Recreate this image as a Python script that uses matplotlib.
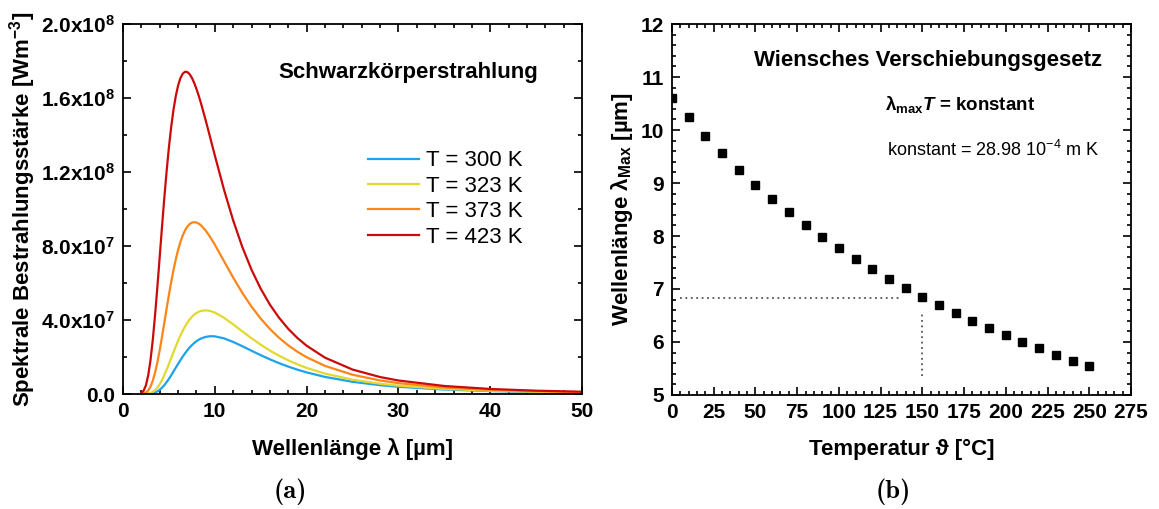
import numpy as np
import matplotlib
matplotlib.use("Agg")
import matplotlib.pyplot as plt
from matplotlib.ticker import MultipleLocator, FuncFormatter

# spectral exitance of a black body, in units of 1e7 W/m^3
wavelength = [2, 2.25, 2.5, 2.75, 3, 3.25, 3.5, 3.75, 4, 4.25, 4.5, 4.75, 5, 5.25,
              5.5, 5.75, 6, 6.25, 6.5, 6.75, 7, 7.25, 7.5, 7.75, 8, 8.25, 8.5, 9,
              9.5, 10, 11, 12, 13, 14, 15, 16, 17, 18, 19, 20, 22, 25, 28, 30, 35,
              40, 45, 50]
M_300 = [0.0, 0.0004, 0.002, 0.006, 0.018, 0.040, 0.080, 0.141, 0.227, 0.339, 0.477,
         0.638, 0.818, 1.012, 1.214, 1.421, 1.626, 1.825, 2.015, 2.194, 2.358, 2.506,
         2.638, 2.754, 2.852, 2.934, 3.000, 3.088, 3.125, 3.117, 3.008, 2.815, 2.583,
         2.339, 2.100, 1.875, 1.668, 1.482, 1.316, 1.169, 0.925, 0.660, 0.478, 0.390,
         0.243, 0.158, 0.107, 0.074]
M_323 = [0.0, 0.002, 0.007, 0.022, 0.055, 0.115, 0.212, 0.350, 0.533, 0.757, 1.019,
         1.309, 1.619, 1.938, 2.260, 2.573, 2.873, 3.153, 3.410, 3.640, 3.843, 4.018,
         4.164, 4.283, 4.376, 4.445, 4.491, 4.524, 4.489, 4.402, 4.122, 3.765, 3.385,
         3.013, 2.665, 2.350, 2.068, 1.820, 1.603, 1.413, 1.104, 0.776, 0.556, 0.451,
         0.277, 0.179, 0.120, 0.083]
M_373 = [0.005, 0.023, 0.076, 0.193, 0.401, 0.723, 1.165, 1.721, 2.370, 3.086, 3.840,
         4.602, 5.345, 6.048, 6.695, 7.274, 7.779, 8.208, 8.557, 8.833, 9.039, 9.179,
         9.261, 9.289, 9.270, 9.211, 9.115, 8.841, 8.484, 8.074, 7.185, 6.295, 5.466,
         4.724, 4.076, 3.517, 3.039, 2.631, 2.285, 1.989, 1.521, 1.042, 0.733, 0.588,
         0.354, 0.225, 0.150, 0.103]
M_423 = [0.048, 0.177, 0.473, 1.011, 1.834, 2.940, 4.288, 5.804, 7.410, 9.026, 10.582,
         12.023, 13.315, 14.428, 15.358, 16.101, 16.666, 17.064, 17.306, 17.416, 17.405,
         17.293, 17.094, 16.824, 16.494, 16.120, 15.708, 14.810, 13.861, 12.900, 11.050,
         9.386, 7.943, 6.718, 5.692, 4.834, 4.121, 3.524, 3.028, 2.611, 1.966, 1.322,
         0.917, 0.731, 0.434, 0.273, 0.180, 0.123]
curve_labels = ["T = 300 K", "T = 323 K", "T = 373 K", "T = 423 K"]
curve_colors = ["#1ca3ec", "#e2d92e", "#ff8519", "#cc0a0a"]

# peak wavelength vs. temperature
temp_c = [0, 10, 20, 30, 40, 50, 60, 70, 80, 90, 100, 110, 120, 130, 140, 150,
          160, 170, 180, 190, 200, 210, 220, 230, 240, 250]
lambda_max = [10.61, 10.24, 9.89, 9.56, 9.25, 8.97, 8.70, 8.45, 8.21, 7.98, 7.77,
              7.56, 7.37, 7.19, 7.01, 6.85, 6.69, 6.54, 6.40, 6.26, 6.13, 6.00,
              5.88, 5.76, 5.65, 5.54]
mark_temp = 150
mark_lambda = 6.83

plt.rcParams['font.family'] = ['Liberation Sans', 'DejaVu Sans']
plt.rcParams['font.weight'] = 'bold'
plt.rcParams['axes.labelweight'] = 'bold'
plt.rcParams['mathtext.fontset'] = 'custom'
plt.rcParams['mathtext.rm'] = 'Liberation Sans:bold'
plt.rcParams['mathtext.bf'] = 'Liberation Sans:bold'
plt.rcParams['mathtext.it'] = 'Liberation Sans:italic:bold'
plt.rcParams['mathtext.sf'] = 'Liberation Sans:weight=normal'


def sci_fmt(v, pos):
    if v == 0:
        return "0.0"
    e = int(np.floor(np.log10(abs(v)) + 1e-9))
    return "%.1fx10$^{%d}$" % (v / 10**e, e)


def style_axes(ax):
    for s in ax.spines.values():
        s.set_linewidth(1.3)
    ax.tick_params(which='both', direction='in', top=True, right=True, width=1.2)
    ax.tick_params(which='major', length=6, labelsize=15, pad=6)
    ax.tick_params(which='minor', length=3)


fig = plt.figure(figsize=(11.59, 5.09), dpi=100)

# (a) black body spectra
ax1 = fig.add_axes([0.1061, 0.2259, 0.3961, 0.7270])
x = np.array(wavelength)
for vals, lab, col in zip([M_300, M_323, M_373, M_423], curve_labels, curve_colors):
    ax1.plot(x, np.array(vals) * 1e7, color=col, lw=1.6, label=lab)
ax1.set_xlim(0, 50)
ax1.set_ylim(0, 2e8)
ax1.xaxis.set_major_locator(MultipleLocator(10))
ax1.xaxis.set_minor_locator(MultipleLocator(2))
ax1.yaxis.set_major_locator(MultipleLocator(4e7))
ax1.yaxis.set_minor_locator(MultipleLocator(2e7))
ax1.yaxis.set_major_formatter(FuncFormatter(sci_fmt))
style_axes(ax1)
ax1.set_xlabel("Wellenlänge λ [µm]", fontsize=16, labelpad=12)
ax1.set_ylabel("Spektrale Bestrahlungsstärke [Wm$^{-3}$]", fontsize=16, labelpad=2)
ax1.text(0.621, 0.870, "Schwarzkörperstrahlung", transform=ax1.transAxes,
         ha='center', va='center', fontsize=16)
ax1.legend(loc='center left', bbox_to_anchor=(0.534, 0.527), frameon=False,
           prop={'weight': 'normal', 'size': 16}, handlelength=2.3,
           handletextpad=0.3, labelspacing=0.2, borderpad=0, borderaxespad=0)

# (b) Wien's displacement law
ax2 = fig.add_axes([0.5798, 0.2240, 0.3960, 0.7288])
ax2.plot([5, 137], [mark_lambda, mark_lambda], color='#555555', lw=1.3,
         linestyle=(0, (1, 2)))
ax2.plot([mark_temp, mark_temp], [5.36, 6.58], color='#555555', lw=1.3,
         linestyle=(0, (1, 2)))
ax2.plot(temp_c, lambda_max, 's', color='black', markersize=6.3, zorder=3)
ax2.set_xlim(0, 275)
ax2.set_ylim(5, 12)
ax2.xaxis.set_major_locator(MultipleLocator(25))
ax2.xaxis.set_minor_locator(MultipleLocator(5))
ax2.yaxis.set_major_locator(MultipleLocator(1))
ax2.yaxis.set_minor_locator(MultipleLocator(0.2))
style_axes(ax2)
ax2.set_xlabel("Temperatur ϑ [°C]", fontsize=16, labelpad=12)
ax2.set_ylabel("Wellenlänge λ$_{\\mathrm{Max}}$ [µm]", fontsize=16, labelpad=4)
ax2.text(0.558, 0.903, "Wiensches Verschiebungsgesetz", transform=ax2.transAxes,
         ha='center', va='center', fontsize=16)
ax2.text(0.627, 0.782, "λ$_{\\mathrm{max}}$$\\mathit{T}$ = konstant",
         transform=ax2.transAxes, ha='center', va='center', fontsize=13.5)
ax2.text(0.699, 0.660, "konstant = 28.98 10$^{\\mathsf{-4}}$ m K",
         transform=ax2.transAxes, ha='center', va='center', fontsize=13,
         fontweight='normal')

# sub-figure captions
fig.text(290 / 1159, 1 - 492 / 509, "(a)", ha='center', va='center',
         fontsize=19, family='cmb10')
fig.text(893 / 1159, 1 - 492 / 509, "(b)", ha='center', va='center',
         fontsize=19, family='cmb10')

fig.savefig("out.png", dpi=100)
